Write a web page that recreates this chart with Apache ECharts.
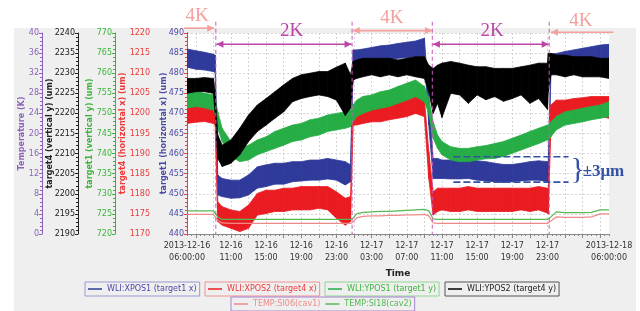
<!DOCTYPE html>
<html>
<head>
<meta charset="utf-8">
<style>html,body{margin:0;padding:0;background:#fff}#chart{width:640px;height:311px}</style>
<script src="https://cdn.jsdelivr.net/npm/echarts@6/dist/echarts.min.js"></script>
</head>
<body>
<div id="chart"></div>
<script>
// hours since 2013-12-16 06:00
var hours = [0, 1, 2, 3, 3.2, 3.5, 4, 5, 6, 7, 8, 9, 10, 11, 12, 13, 14, 15, 16, 17, 18, 18.6, 18.9, 19.3, 20, 21, 22, 23, 24, 25, 26, 27, 27.5, 28, 28.5, 29, 30, 31, 32, 33, 34, 35, 36, 37, 38, 39, 40, 41, 41.1, 41.4, 42, 43, 44, 45, 46, 47, 48];

// WLI:XPOS1 (target1 x), noise envelope
var xpos1Hi = [486.0, 485.6, 485.2, 484.7, 484.5, 454.7, 453.8, 453.4, 453.4, 454.7, 456.7, 457.2, 457.6, 457.6, 458.0, 458.0, 458.4, 458.4, 458.8, 458.4, 458.0, 457.2, 485.8, 485.8, 486.0, 486.4, 486.8, 487.0, 487.4, 487.7, 488.0, 488.7, 473.7, 458.8, 458.8, 458.4, 458.4, 458.4, 458.4, 458.2, 458.0, 457.6, 457.3, 457.3, 457.6, 458.0, 458.2, 458.0, 458.0, 484.9, 484.9, 485.4, 485.8, 486.2, 486.6, 487.0, 487.2];
var xpos1Lo = [481.5, 481.0, 480.8, 480.4, 480.2, 449.7, 449.3, 448.9, 449.0, 449.7, 451.4, 451.8, 452.4, 452.4, 453.0, 453.2, 453.4, 453.4, 453.7, 453.4, 452.2, 453.0, 482.5, 482.7, 482.9, 483.0, 483.3, 483.5, 483.7, 483.9, 484.1, 484.1, 467.1, 453.8, 453.8, 453.8, 453.7, 453.7, 453.8, 453.4, 453.2, 453.0, 452.8, 453.0, 453.2, 453.4, 453.4, 453.0, 453.0, 480.4, 481.4, 481.6, 482.0, 482.5, 482.9, 483.3, 483.5];

// WLI:XPOS2 (target4 x)
var xpos2Hi = [1202.1, 1202.3, 1202.5, 1202.5, 1202.1, 1178.0, 1176.8, 1176.0, 1175.6, 1177.2, 1180.1, 1180.9, 1180.9, 1181.4, 1181.4, 1181.8, 1181.8, 1181.8, 1181.8, 1180.5, 1178.9, 1179.3, 1200.4, 1200.8, 1201.3, 1201.7, 1202.1, 1202.5, 1202.9, 1203.3, 1204.2, 1203.7, 1190.5, 1180.5, 1181.4, 1181.4, 1181.4, 1181.4, 1181.8, 1181.4, 1181.4, 1181.4, 1181.4, 1181.4, 1181.4, 1181.4, 1181.8, 1181.4, 1181.0, 1202.1, 1203.3, 1203.3, 1203.7, 1203.9, 1204.2, 1204.2, 1204.2];
var xpos2Lo = [1197.5, 1197.8, 1198.0, 1197.5, 1197.1, 1173.1, 1172.2, 1171.4, 1170.6, 1171.4, 1174.7, 1175.1, 1175.6, 1175.6, 1176.0, 1176.0, 1176.0, 1176.4, 1176.0, 1173.9, 1172.2, 1173.1, 1197.1, 1197.1, 1197.5, 1197.9, 1197.9, 1198.4, 1198.8, 1199.2, 1200.0, 1199.2, 1183.8, 1174.7, 1175.6, 1176.0, 1175.6, 1175.6, 1176.0, 1175.6, 1175.6, 1175.6, 1175.6, 1175.6, 1176.0, 1175.6, 1176.0, 1175.2, 1175.0, 1197.1, 1198.0, 1198.4, 1198.4, 1198.8, 1198.8, 1199.2, 1198.8];

// WLI:YPOS1 (target1 y)
var ypos1Hi = [755.4, 755.4, 755.0, 754.6, 753.7, 750.4, 746.3, 743.0, 741.3, 742.1, 743.4, 744.2, 745.5, 746.3, 747.1, 747.5, 748.4, 748.8, 749.6, 750.0, 750.4, 750.8, 752.1, 753.3, 754.2, 754.6, 755.4, 755.8, 756.7, 757.5, 758.3, 756.7, 753.7, 747.9, 744.6, 743.0, 741.7, 741.3, 741.3, 741.7, 742.0, 742.5, 743.0, 743.8, 744.6, 745.5, 746.3, 747.1, 747.1, 747.9, 749.2, 750.4, 750.8, 751.3, 751.7, 752.1, 752.9];
var ypos1Lo = [751.3, 751.7, 751.4, 750.8, 750.0, 746.3, 743.0, 739.3, 738.0, 738.4, 739.7, 740.5, 741.3, 742.1, 743.0, 743.4, 744.2, 744.6, 745.5, 745.9, 746.3, 746.7, 747.9, 749.2, 750.0, 750.8, 751.3, 751.7, 752.5, 753.3, 754.2, 752.9, 750.0, 743.8, 741.3, 739.7, 738.4, 738.0, 738.0, 738.4, 738.7, 738.8, 739.3, 740.1, 740.9, 741.7, 742.5, 743.4, 743.4, 744.2, 745.9, 747.1, 747.5, 747.9, 748.4, 748.8, 749.2];

// WLI:YPOS2 (target4 y)
var ypos2Hi = [2228.7, 2228.7, 2228.9, 2228.7, 2225.4, 2214.6, 2212.1, 2213.4, 2216.3, 2219.6, 2222.1, 2223.7, 2225.4, 2227.1, 2228.7, 2229.6, 2230.0, 2230.4, 2230.4, 2231.5, 2232.5, 2229.6, 2232.9, 2233.3, 2233.7, 2233.7, 2233.7, 2233.7, 2233.3, 2233.7, 2234.1, 2234.1, 2232.0, 2231.2, 2232.0, 2232.5, 2232.9, 2232.5, 2232.0, 2231.6, 2231.6, 2231.2, 2231.2, 2231.2, 2231.6, 2232.0, 2232.5, 2232.5, 2235.0, 2234.9, 2234.5, 2234.5, 2234.1, 2234.1, 2234.1, 2233.7, 2233.7];
var ypos2Lo = [2225.0, 2225.4, 2225.4, 2225.0, 2220.4, 2208.8, 2206.8, 2207.6, 2209.7, 2213.0, 2215.5, 2217.1, 2218.8, 2220.4, 2222.9, 2223.7, 2224.2, 2224.6, 2224.2, 2223.3, 2219.5, 2221.3, 2228.3, 2228.7, 2229.1, 2229.6, 2229.1, 2229.6, 2229.1, 2229.6, 2229.1, 2228.7, 2225.4, 2220.0, 2222.5, 2219.0, 2225.0, 2224.6, 2222.5, 2224.6, 2223.4, 2224.2, 2223.0, 2223.7, 2224.6, 2222.5, 2223.7, 2221.0, 2225.4, 2229.6, 2229.6, 2229.1, 2229.6, 2229.1, 2229.1, 2229.1, 2228.7];

// temperatures (K)
var si06 = [3.9, 3.9, 3.9, 3.9, 3.7, 2.7, 2.2, 2.1, 2.1, 2.1, 2.1, 2.1, 2.1, 2.1, 2.1, 2.1, 2.1, 2.1, 2.1, 2.1, 2.1, 2.1, 2.4, 3.2, 3.5, 3.6, 3.6, 3.7, 3.7, 3.8, 3.8, 3.9, 3.6, 2.2, 2.1, 2.1, 2.1, 2.1, 2.1, 2.1, 2.1, 2.1, 2.1, 2.1, 2.1, 2.1, 2.1, 2.1, 2.1, 2.6, 3.4, 3.3, 3.3, 3.3, 3.4, 4.0, 4.0];
var si18 = [4.6, 4.6, 4.6, 4.6, 4.4, 3.4, 2.9, 2.9, 2.9, 2.9, 2.9, 2.9, 2.9, 2.9, 2.9, 2.9, 2.9, 2.9, 2.9, 2.9, 2.9, 2.9, 3.2, 4.0, 4.3, 4.4, 4.5, 4.5, 4.6, 4.7, 4.8, 4.9, 4.6, 3.0, 2.9, 2.9, 2.9, 2.9, 2.9, 2.9, 2.9, 2.9, 2.9, 2.9, 2.9, 2.9, 2.9, 2.9, 2.9, 3.4, 4.4, 4.25, 4.25, 4.25, 4.3, 4.8, 4.8];

var seriesNames = ['WLI:XPOS1 (target1 x)', 'WLI:XPOS2 (target4 x)', 'WLI:YPOS1 (target1 y)', 'WLI:YPOS2 (target4 y)', 'TEMP:SI06(cav1)', 'TEMP:SI18(cav2)'];

var xTickHours = [0, 5, 9, 13, 17, 21, 25, 29, 33, 37, 41, 48];
var xTickLabels = ['2013-12-16\n06:00:00', '12-16\n11:00', '12-16\n15:00', '12-16\n19:00', '12-16\n23:00', '12-17\n03:00', '12-17\n07:00', '12-17\n11:00', '12-17\n15:00', '12-17\n19:00', '12-17\n23:00', '2013-12-18\n06:00:00'];
var gridHours = [1, 3, 5, 7, 9, 11, 13, 15, 17, 19, 21, 23, 25, 27, 29, 31, 33, 35, 37, 39, 41, 43, 45, 47];

// annotations (hours / target1-x axis units)
var transitions = [3.28, 18.78, 27.9, 41.2];
var fourKSpans = [[-0.35, 3.1, 491.2, 'r'], [18.85, 27.85, 490.6, 'lr'], [41.4, 48.5, 490.2, 'l']];
var fourKLabels = [[1.15, 494.2], [23.3, 493.7], [44.8, 493.0]];
var twoKSpans = [[3.35, 18.72, 487.2], [27.97, 41.14, 487.2]];
var twoKLabels = [[11.9, 490.4], [34.7, 490.5]];
var rangeLines = [459.2, 452.9];
var rangeSpan = [30.3, 43.4];

var FONT = 'DejaVu Sans';
var SERIF = 'Liberation Serif';

function pairs(ys) {
    return hours.map(function (h, i) { return [h, ys[i]]; });
}
// noisy signal drawn as its min/max envelope, one quad per time step
function band(name, axis, lo, hi, color, z) {
    var data = [];
    for (var i = 0; i < hours.length - 1; i++) {
        data.push([hours[i], lo[i], hi[i], hours[i + 1], lo[i + 1], hi[i + 1]]);
    }
    return {
        name: name, type: 'custom', coordinateSystem: 'cartesian2d', yAxisIndex: axis, z: z, clip: true,
        itemStyle: { color: color },
        encode: { x: [0, 3], y: [1, 2, 4, 5] },
        renderItem: function (params, api) {
            var pts = [
                api.coord([api.value(0), api.value(1)]),
                api.coord([api.value(0), api.value(2)]),
                api.coord([api.value(3), api.value(5)]),
                api.coord([api.value(3), api.value(4)])
            ];
            return { type: 'polygon', shape: { points: pts }, style: { fill: color, stroke: color, lineWidth: 0.8 } };
        },
        data: data
    };
}
function yAx(min, max, interval, offset, color, name, nameGap, split) {
    return {
        type: 'value', position: 'left', offset: offset, min: min, max: max, interval: interval,
        name: name, nameLocation: 'middle', nameGap: nameGap, nameRotate: 90, nameMoveOverlap: false,
        nameTextStyle: { color: color, fontSize: 8, fontWeight: 'bold', fontFamily: FONT },
        axisLine: { show: true, lineStyle: { color: color, width: 1 } },
        axisTick: { show: true, length: 3, lineStyle: { color: color } },
        minorTick: { show: true, splitNumber: 5, length: 2, lineStyle: { color: color } },
        axisLabel: { color: color, fontSize: 8, fontFamily: FONT, margin: 3,
            formatter: function (v) { return String(v); } },
        splitLine: { show: !!split, lineStyle: { color: '#d4d4d4', type: [2, 2] } }
    };
}

var legendBase = {
    orient: 'horizontal', icon: 'rect', itemWidth: 14, itemHeight: 1.5, itemGap: 5, padding: [3, 3],
    borderWidth: 1, selectedMode: false,
    textStyle: { fontSize: 8, fontFamily: FONT }
};
function legend(items, left, top, border) {
    return Object.assign({}, legendBase, {
        left: left, top: top, borderColor: border,
        data: items.map(function (it) { return { name: it[0], textStyle: { color: it[1] } }; })
    });
}

var chart = echarts.init(document.getElementById('chart'));
var option = {
    backgroundColor: '#fff',
    animation: false,
    grid: { left: 187, right: 31, top: 33, bottom: 77, show: true, backgroundColor: '#fff', borderWidth: 0 },
    xAxis: [{
        type: 'value', min: 0, max: 48, position: 'bottom',
        name: 'Time', nameLocation: 'middle', nameGap: 34,
        nameTextStyle: { color: '#222', fontSize: 9, fontWeight: 'bold', fontFamily: FONT },
        axisLine: { show: true, lineStyle: { color: '#888' } },
        axisTick: { show: true, length: 4, customValues: gridHours, lineStyle: { color: '#888' } },
        axisLabel: {
            customValues: xTickHours, color: '#333', fontSize: 8, fontFamily: FONT, lineHeight: 12, margin: 6,
            formatter: function (v) {
                var i = xTickHours.indexOf(v);
                return i >= 0 ? xTickLabels[i] : '';
            }
        },
        splitLine: { show: true, lineStyle: { color: '#d4d4d4', type: [2, 2] } }
    }, {
        type: 'value', min: 0, max: 48, interval: 0.5, position: 'bottom',
        axisLine: { show: false }, axisLabel: { show: false }, splitLine: { show: false },
        axisTick: { show: true, length: 2, lineStyle: { color: '#888' } }
    }],
    yAxis: [
        yAx(440, 490, 5, 0, '#4a4aa6', 'target1 (horizontal x) (um)', 19, true),
        yAx(1170, 1220, 5, 34, '#ee3a3a', 'target4 (horizontal x) (um)', 26),
        yAx(720, 770, 5, 72, '#3cb43c', 'target1 (vertical y) (um)', 21),
        yAx(2190, 2240, 5, 109, '#222', 'target4 (vertical y) (um)', 24),
        yAx(0, 40, 4, 145, '#8a62b8', 'Temperature (K)', 16)
    ],
    legend: [
        legend([[seriesNames[0], '#4a4aa6']], 85, 282, '#9a9ad4'),
        legend([[seriesNames[1], '#ee3a3a']], 205, 282, '#f29090'),
        legend([[seriesNames[2], '#3cb43c']], 325, 282, '#8fd68f'),
        legend([[seriesNames[3], '#222']], 445, 282, '#555'),
        legend([[seriesNames[4], '#f08a8a'], [seriesNames[5], '#55b955']], 231, 297, '#a884d4')
    ],
    series: [
        band(seriesNames[0], 0, xpos1Lo, xpos1Hi, '#2f3a9a', 2),
        band(seriesNames[1], 1, xpos2Lo, xpos2Hi, '#ea1c22', 3),
        band(seriesNames[2], 2, ypos1Lo, ypos1Hi, '#27ad45', 4),
        band(seriesNames[3], 3, ypos2Lo, ypos2Hi, '#000', 5),
        {
            name: seriesNames[4], type: 'line', yAxisIndex: 4, symbol: 'none', z: 6,
            lineStyle: { color: '#f08a8a', width: 1.2 }, itemStyle: { color: '#f08a8a' }, data: pairs(si06)
        }, {
            name: seriesNames[5], type: 'line', yAxisIndex: 4, symbol: 'none', z: 6,
            lineStyle: { color: '#55b955', width: 1.2 }, itemStyle: { color: '#55b955' }, data: pairs(si18)
        }
    ]
};
chart.setOption(option);

// annotations placed through the axis scales
function px(h, v) { return chart.convertToPixel({ xAxisIndex: 0, yAxisIndex: 0 }, [h, v]); }
function head(x, y, dir, color) {
    return { type: 'polygon', z: 100, silent: true,
        shape: { points: [[x, y], [x - dir * 7, y - 3.5], [x - dir * 7, y + 3.5]] }, style: { fill: color } };
}
function arrow(h1, h2, v, heads, color, g) {
    var a = px(h1, v), b = px(h2, v);
    g.push({ type: 'line', z: 100, silent: true, shape: { x1: a[0], y1: a[1], x2: b[0], y2: b[1] },
        style: { stroke: color, lineWidth: 1.6 } });
    if (heads.indexOf('l') >= 0) g.push(head(a[0], a[1], -1, color));
    if (heads.indexOf('r') >= 0) g.push(head(b[0], b[1], 1, color));
}
function label(h, v, text, color, font, align) {
    var p = px(h, v);
    return { type: 'text', z: 100, silent: true, x: p[0], y: p[1],
        style: { text: text, fill: color, font: font, align: align || 'center', verticalAlign: 'middle' } };
}

var pink = '#f4a09c', magenta = '#bb46a6', blueNote = '#3352a4';
var g = [{ type: 'rect', z: -10, silent: true, shape: { x: 14, y: 28, width: 622, height: 283 }, style: { fill: '#efefef' } }];
transitions.forEach(function (h) {
    var a = px(h, 492.8), b = px(h, 440);
    g.push({ type: 'line', z: 90, silent: true, shape: { x1: a[0], y1: a[1], x2: b[0], y2: b[1] },
        style: { stroke: '#c85ab8', lineWidth: 1, lineDash: [4, 3] } });
});
fourKSpans.forEach(function (s) { arrow(s[0], s[1], s[2], s[3], pink, g); });
twoKSpans.forEach(function (s) { arrow(s[0], s[1], s[2], 'lr', magenta, g); });
fourKLabels.forEach(function (l) { g.push(label(l[0], l[1], '4K', pink, '19px "' + SERIF + '"')); });
twoKLabels.forEach(function (l) { g.push(label(l[0], l[1], '2K', magenta, '19px "' + SERIF + '"')); });
rangeLines.forEach(function (v) {
    var a = px(rangeSpan[0], v), b = px(rangeSpan[1], v);
    g.push({ type: 'line', z: 100, silent: true, shape: { x1: a[0], y1: a[1], x2: b[0], y2: b[1] },
        style: { stroke: blueNote, lineWidth: 1.6, lineDash: [7, 3] } });
});
g.push(label(44.45, 456.0, '}', blueNote, '30px "' + SERIF + '"'));
g.push(label(45.0, 455.6, '±3μm', blueNote, 'bold 17px "' + SERIF + '"', 'left'));
chart.setOption({ graphic: g });
</script>
</body>
</html>
